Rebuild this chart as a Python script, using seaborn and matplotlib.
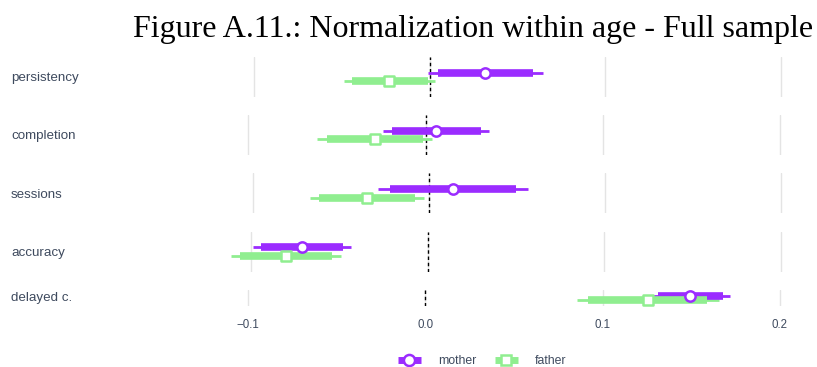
import matplotlib
matplotlib.use("Agg")
import matplotlib.pyplot as plt
import seaborn as sns
import pandas as pd
from matplotlib.lines import Line2D

# ---- data ----
outcomes = ["persistency", "completion", "sessions", "accuracy", "delayed c."]
parents = ["mother", "father"]

mother_est = [0.0317, 0.0060, 0.0133, -0.0714, 0.1494]
mother_ci90_lo = [0.0045, -0.0188, -0.0223, -0.0944, 0.1314]
mother_ci90_hi = [0.0587, 0.0310, 0.0491, -0.0478, 0.1677]
mother_ci95_lo = [-0.0008, -0.0239, -0.0293, -0.0988, 0.1286]
mother_ci95_hi = [0.0643, 0.0359, 0.0563, -0.0434, 0.1718]

father_est = [-0.0230, -0.0286, -0.0356, -0.0804, 0.1258]
father_ci90_lo = [-0.0444, -0.0555, -0.0627, -0.1063, 0.0919]
father_ci90_hi = [-0.0008, -0.0014, -0.0081, -0.0544, 0.1590]
father_ci95_lo = [-0.0488, -0.0612, -0.0678, -0.1114, 0.0854]
father_ci95_hi = [0.0030, 0.0037, -0.0030, -0.0493, 0.1658]

x_ticks = [-0.1, 0.0, 0.1, 0.2]
x_tick_labels = ["\u22120.1", "0.0", "0.1", "0.2"]

title = "Figure A.11.: Normalization within age - Full sample"

# ---- style ----
sns.set_theme(style="white")
plt.rcParams["font.family"] = ["Liberation Sans", "DejaVu Sans"]

PURPLE = "#9b2cff"
GREEN = "#90ee90"
TEXT = "#3e4a5e"
colors = {"mother": PURPLE, "father": GREEN}
markers = {"mother": "o", "father": "s"}
sizes = {"mother": 55, "father": 45}
offsets = {"mother": -0.21, "father": 0.21}

rows = []
for i, o in enumerate(outcomes):
    rows.append(dict(outcome=o, parent="mother", est=mother_est[i],
                     lo90=mother_ci90_lo[i], hi90=mother_ci90_hi[i],
                     lo95=mother_ci95_lo[i], hi95=mother_ci95_hi[i]))
    rows.append(dict(outcome=o, parent="father", est=father_est[i],
                     lo90=father_ci90_lo[i], hi90=father_ci90_hi[i],
                     lo95=father_ci95_lo[i], hi95=father_ci95_hi[i]))
df = pd.DataFrame(rows)
df["pos"] = df["parent"].map(offsets)

W, H = 817, 367
fig = plt.figure(figsize=(W / 100, H / 100), dpi=100)

L, R = 180, 800
row_tops = [57, 115.2, 173.4, 231.6, 290]
row_heights = [40, 40, 40, 40, 16]
label_y = [78, 136.5, 194.5, 253, 298.5]
xlims = [(-0.1421, 0.2107), (-0.1386, 0.2112), (-0.1417, 0.2108),
         (-0.1403, 0.2109), (-0.1383, 0.2113)]

for i, o in enumerate(outcomes):
    top, h = row_tops[i], row_heights[i]
    ax = fig.add_axes([L / W, 1 - (top + h) / H, (R - L) / W, h / H])
    sub = df[df["outcome"] == o]
    ax.set_xlim(*xlims[i])
    ax.set_ylim(1, -1)
    ax.set_xticks(x_ticks)
    ax.grid(axis="x", color="#e4e4e4", lw=1, zorder=0)
    ax.grid(axis="y", visible=False)
    ax.axvline(0, color="black", lw=1, ls=(0, (2.5, 2)), zorder=1)
    for _, r in sub.iterrows():
        c = colors[r["parent"]]
        ax.hlines(r["pos"], r["lo95"], r["hi95"], color=c, lw=2, zorder=2,
                  capstyle="butt")
        ax.hlines(r["pos"], r["lo90"], r["hi90"], color=c, lw=5.5, zorder=3,
                  capstyle="butt")
    for p in parents:
        sns.scatterplot(data=sub[sub["parent"] == p], x="est", y="pos",
                        marker=markers[p], s=sizes[p], color="white",
                        edgecolor=colors[p], linewidth=1.8, zorder=4,
                        ax=ax, legend=False)
    ax.set_ylim(1, -1)
    ax.set_xlabel("")
    ax.set_ylabel("")
    ax.set_yticks([])
    for s in ax.spines.values():
        s.set_visible(False)
    ax.tick_params(axis="x", length=0, pad=9, labelsize=8.3, labelcolor=TEXT)
    if i == len(outcomes) - 1:
        ax.set_xticklabels(x_tick_labels)
    else:
        ax.set_xticklabels([])
    ax.patch.set_alpha(0)
    fig.text(11 / W, 1 - label_y[i] / H, o, ha="left", va="center",
             fontsize=9.6, color=TEXT)

fig.text(813 / W, 1 - 37 / H, title, ha="right", va="baseline",
         family=["Liberation Serif", "DejaVu Serif"], fontsize=23, color="black")

handles = [Line2D([0], [0], color=colors[p], lw=5, marker=markers[p],
                  markerfacecolor="white", markeredgecolor=colors[p],
                  markersize=8 if p == "mother" else 7.5, markeredgewidth=1.8,
                  solid_capstyle="butt")
           for p in parents]
fig.legend(handles, parents, loc="center", bbox_to_anchor=(482 / W, 1 - 361.5 / H),
           ncol=2, frameon=False, handlelength=1.9, fontsize=8.8,
           columnspacing=1.5, handletextpad=1.4, labelcolor=TEXT)

fig.savefig("out.png", dpi=100)
